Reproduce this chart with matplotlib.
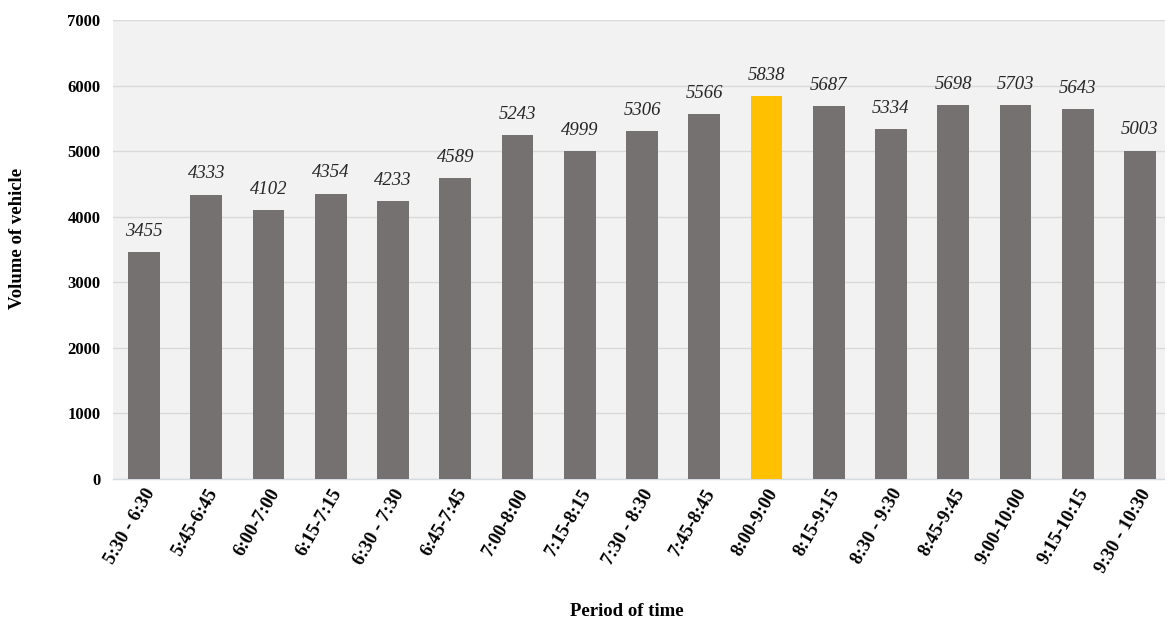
import matplotlib
matplotlib.use("Agg")
import matplotlib.pyplot as plt

categories = ["5:30 - 6:30", "5:45-6:45", "6:00-7:00", "6:15-7:15", "6:30 - 7:30",
              "6:45-7:45", "7:00-8:00", "7:15-8:15", "7:30 - 8:30", "7:45-8:45",
              "8:00-9:00", "8:15-9:15", "8:30 - 9:30", "8:45-9:45", "9:00-10:00",
              "9:15-10:15", "9:30 - 10:30"]
values = [3455, 4333, 4102, 4354, 4233, 4589, 5243, 4999, 5306, 5566,
          5838, 5687, 5334, 5698, 5703, 5643, 5003]
highlight = "8:00-9:00"

plt.rcParams['font.family'] = ['Liberation Serif', 'DejaVu Serif']

fig = plt.figure(figsize=(11.65, 6.21), dpi=100)
ax = fig.add_axes([113/1165, 1 - 479/621, (1171 - 113)/1165, (479 - 20)/621])
ax.set_facecolor('#F2F2F2')

colors = ['#FFC000' if c == highlight else '#767171' for c in categories]
x = list(range(len(categories)))
bars = ax.bar(x, values, width=0.51, color=colors, zorder=3)

for xi, v in zip(x, values):
    ax.text(xi, v + 190, str(v), ha='center', va='bottom', fontsize=13.5,
            style='italic', color='#262626', zorder=4)

ax.set_xlim(-0.5, len(categories) - 0.5)
ax.set_ylim(0, 7000)
ax.set_yticks(range(0, 7001, 1000))
ax.yaxis.grid(True, color='#D9D9D9', linewidth=1, zorder=0)
ax.set_axisbelow(True)

for s in ['top', 'right', 'left']:
    ax.spines[s].set_visible(False)
ax.spines['bottom'].set_color('#D6DCE4')
ax.spines['bottom'].set_linewidth(1)

ax.tick_params(axis='both', length=0)
ax.tick_params(axis='y', pad=9)
ax.tick_params(axis='x', pad=5)
ax.set_xticks(x)
ax.set_xticklabels(categories, rotation=60, ha='right', rotation_mode='anchor',
                   fontsize=13.5, fontweight='bold')
for lab in ax.get_yticklabels():
    lab.set_fontsize(12)
    lab.set_fontweight('bold')

fig.text(18/1165, 1 - 238/621, 'Volume of vehicle', rotation=90, ha='center',
         va='center', fontsize=13.5, fontweight='bold')
fig.text(627/1165, 1 - 611/621, 'Period of time', ha='center', va='center',
         fontsize=13.5, fontweight='bold')

fig.savefig('out.png', dpi=100)
